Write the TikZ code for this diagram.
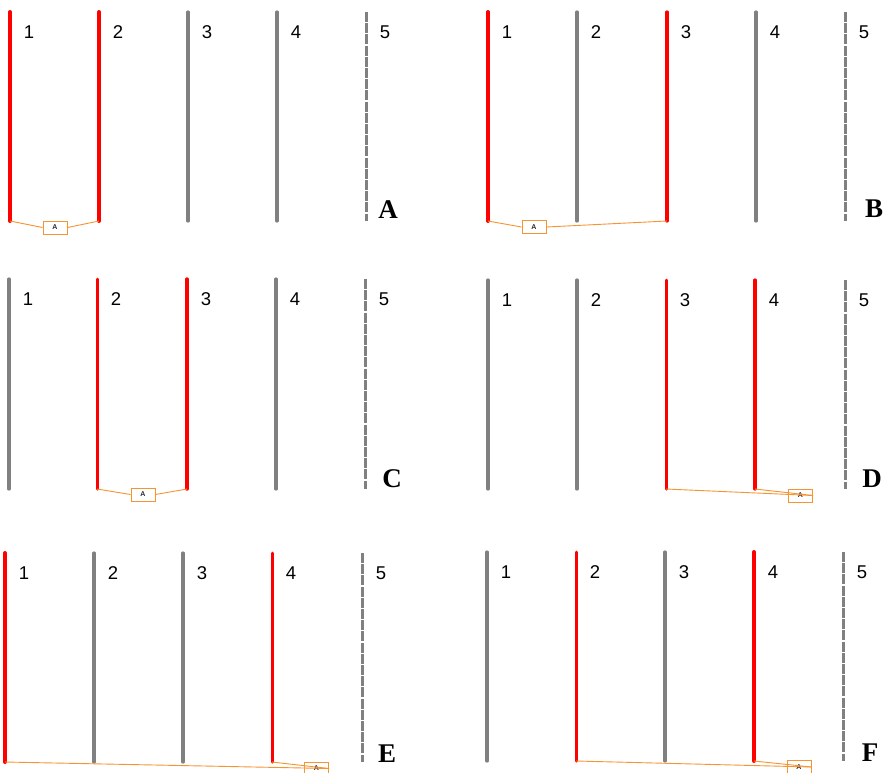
\documentclass[tikz,border=0pt]{standalone}
\usepackage{fontspec}
\setmainfont{Liberation Serif}
\setsansfont{Liberation Sans}
\definecolor{wiregray}{RGB}{128,128,128}
\definecolor{wirered}{RGB}{255,0,0}
\definecolor{connorange}{RGB}{247,148,50}
\definecolor{boxtext}{RGB}{40,40,60}
\tikzset{
  num/.style={font=\sffamily\fontsize{18.5}{18.5}\selectfont, inner sep=0pt},
  tag/.style={font=\rmfamily\bfseries\fontsize{27}{27}\selectfont, inner sep=0pt},
  conn/.style={draw=connorange, line width=0.9pt},
  abox/.style={draw=connorange, line width=1pt, minimum width=24pt, minimum height=13pt,
    inner sep=0pt, text=boxtext, font=\sffamily\bfseries\fontsize{7}{7}\selectfont},
  dashwire/.style={draw=wiregray, line width=3pt, dash pattern=on 10pt off 1.2pt},
}
% #1 panel id, #2 index, #3 x, #4 top, #5 bottom, #6 colour, #7 width
\newcommand\wline[7]{%
  \coordinate (#1#2t) at (#3,-#4);
  \coordinate (#1#2b) at (#3,-#5);
  \draw[line width=#7, draw=#6, line cap=round] (#1#2t) -- (#1#2b);
  \node[num] (#1#2n) at (#3+19,-#4-20) {#2};
}
% dashed fifth line
\newcommand\dline[4]{%
  \coordinate (#15t) at (#2,-#3);
  \coordinate (#15b) at (#2,-#4);
  \draw[dashwire] (#15t) -- (#15b);
  \node[num] (#15n) at (#2+19,-#3-20) {5};
}
\begin{document}
\begin{tikzpicture}[x=1pt,y=1pt]
\useasboundingbox (0,0) rectangle (883,-772);
\clip (0,0) rectangle (883,-772);
\fill[white] (0,0) rectangle (883,-772);

% ---------- Panel A ----------
\wline{A}{1}{10}{12}{221}{wirered}{4pt}
\wline{A}{2}{99}{12}{221}{wirered}{4pt}
\wline{A}{3}{188}{12}{221}{wiregray}{3.2pt}
\wline{A}{4}{277}{12}{221}{wiregray}{3.2pt}
\dline{A}{366}{12}{221}
\node[abox] (Abox) at (55,-227.5) {A};
\draw[conn] (A1b) -- (Abox.west);
\draw[conn] (A2b) -- (Abox.east);
\node[tag] (Atag) at (388,-210) {A};

% ---------- Panel B ----------
\wline{B}{1}{488}{12}{221}{wirered}{4pt}
\wline{B}{2}{577}{12}{221}{wiregray}{3.2pt}
\wline{B}{3}{667}{12}{221}{wirered}{3.2pt}
\wline{B}{4}{756}{12}{221}{wiregray}{3.2pt}
\dline{B}{845}{12}{221}
\node[abox] (Bbox) at (534,-227) {A};
\draw[conn] (B1b) -- (Bbox.west);
\draw[conn] (B3b) -- (Bbox.east);
\node[tag] (Btag) at (874,-209) {B};

% ---------- Panel C ----------
\wline{C}{1}{9}{279}{489}{wiregray}{3.2pt}
\wline{C}{2}{97}{279}{489}{wirered}{3pt}
\wline{C}{3}{187}{279}{489}{wirered}{3.4pt}
\wline{C}{4}{276}{279}{489}{wiregray}{3.2pt}
\dline{C}{365}{279}{489}
\node[abox] (Cbox) at (143,-494.5) {A};
\draw[conn] (C2b) -- (Cbox.west);
\draw[conn] (C3b) -- (Cbox.east);
\node[tag] (Ctag) at (392,-479) {C};

% ---------- Panel D ----------
\wline{D}{1}{488}{280}{489}{wiregray}{3.2pt}
\wline{D}{2}{577}{280}{489}{wiregray}{3.2pt}
\wline{D}{3}{666}{280}{489}{wirered}{3pt}
\wline{D}{4}{755}{280}{489}{wirered}{3.2pt}
\dline{D}{845}{280}{489}
\node[abox] (Dbox) at (800.5,-495.5) {A};
\draw[conn] (D3b) -- (Dbox.east);
\draw[conn] (D4b) -- (Dbox.east);
\node[tag] (Dtag) at (872,-479) {D};

% ---------- Panel E ----------
\wline{E}{1}{5}{553}{762}{wirered}{4pt}
\wline{E}{2}{94}{553}{762}{wiregray}{3.2pt}
\wline{E}{3}{183}{553}{762}{wiregray}{3.2pt}
\wline{E}{4}{272}{553}{762}{wirered}{3pt}
\dline{E}{362}{553}{762}
\node[abox] (Ebox) at (316.5,-768.5) {A};
\draw[conn] (E1b) -- (Ebox.east);
\draw[conn] (E4b) -- (Ebox.east);
\node[tag] (Etag) at (387,-754) {E};

% ---------- Panel F ----------
\wline{F}{1}{487}{552}{761}{wiregray}{3.2pt}
\wline{F}{2}{576}{552}{761}{wirered}{3pt}
\wline{F}{3}{665}{552}{761}{wiregray}{3.2pt}
\wline{F}{4}{754}{552}{761}{wirered}{4pt}
\dline{F}{843}{552}{761}
\node[abox] (Fbox) at (799,-767) {A};
\draw[conn] (F2b) -- (Fbox.east);
\draw[conn] (F4b) -- (Fbox.east);
\node[tag] (Ftag) at (870,-753) {F};
\end{tikzpicture}
\end{document}
